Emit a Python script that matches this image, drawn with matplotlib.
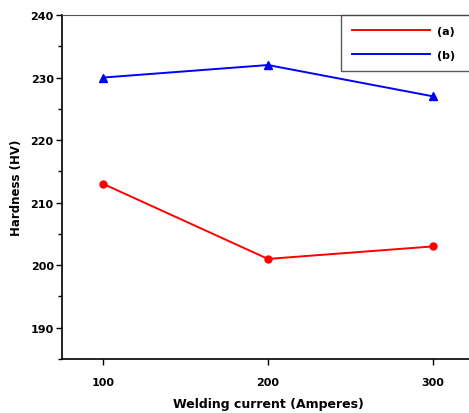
import matplotlib.pyplot as plt
from matplotlib.ticker import MultipleLocator

plt.rcParams['font.family'] = ['DejaVu Sans']
plt.rcParams['font.weight'] = 'bold'

# data
current = [100, 200, 300]
hardness_a = [213, 201, 203]
hardness_b = [230, 232, 227]
labels = ['(a)', '(b)']

fig = plt.figure(figsize=(4.69, 4.14), dpi=100)
ax = fig.add_axes([62 / 469, 54 / 414, 412 / 469, 344 / 414])

ax.plot(current, hardness_a, color='#ff0000', lw=1.4, marker='o', ms=5, label=labels[0])
ax.plot(current, hardness_b, color='#0000ff', lw=1.4, marker='^', ms=6, label=labels[1])

ax.set_xlim(75, 325)
ax.set_ylim(185, 240)
ax.set_xticks(current)
ax.yaxis.set_major_locator(MultipleLocator(10))
ax.yaxis.set_minor_locator(MultipleLocator(5))
ax.tick_params(axis='both', which='both', direction='out', labelsize=8, width=1)
ax.tick_params(axis='x', length=4, pad=9)
ax.tick_params(axis='y', which='major', length=4, pad=2)
ax.tick_params(axis='y', which='minor', length=3)

for s in ['left', 'bottom']:
    ax.spines[s].set_linewidth(1.2)
ax.spines['top'].set_color('#555555')
ax.spines['right'].set_visible(False)

ax.set_xlabel('Welding current (Amperes)', fontsize=9, fontweight='bold', labelpad=7)
ax.set_ylabel('Hardness (HV)', fontsize=8.5, fontweight='bold', labelpad=5)

x0 = (341 - 62) / 412
leg = ax.legend(loc='upper left', bbox_to_anchor=(x0, 0, 1.1 - x0, 1.0), mode='expand',
                borderaxespad=0, handlelength=7, handletextpad=0.6, fontsize=8,
                fancybox=False, edgecolor='#333333', borderpad=1.0, labelspacing=1.25,
                markerscale=0)
leg.get_frame().set_linewidth(1.0)
for line in leg.get_lines():
    line.set_marker('')

fig.savefig('out.png', dpi=100)
